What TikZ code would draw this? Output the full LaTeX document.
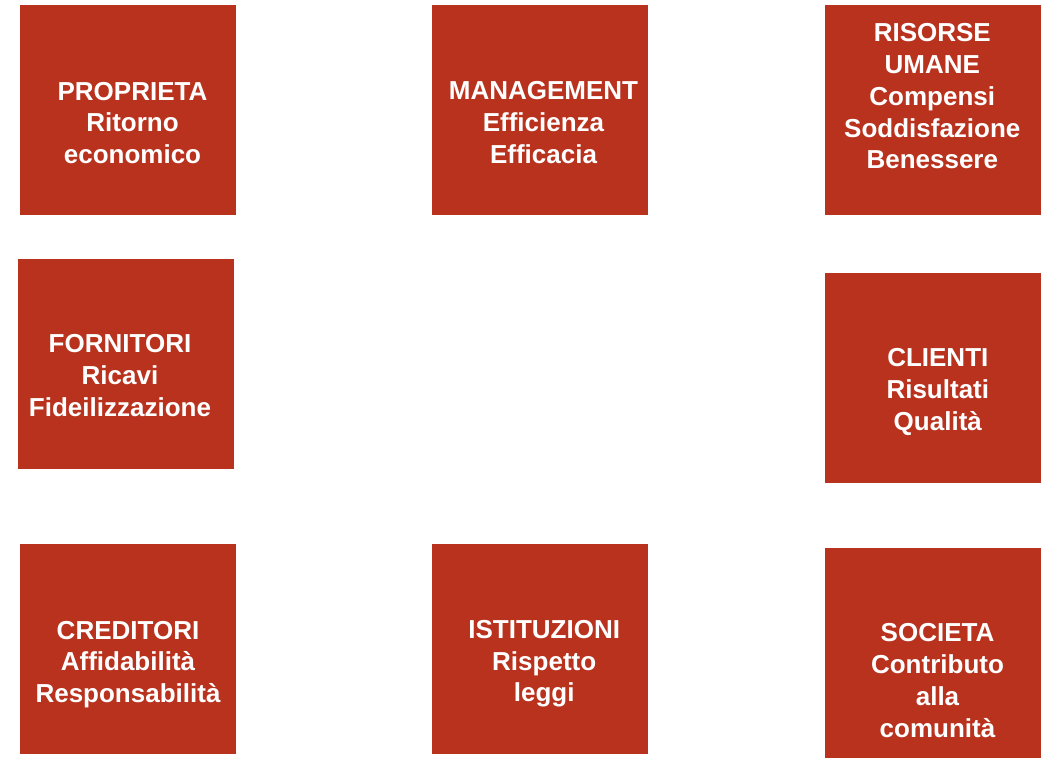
\documentclass[tikz,border=0pt]{standalone}
\usepackage{fontspec}
\setmainfont{Liberation Sans}
\definecolor{boxred}{HTML}{B8321E}
\newcommand{\boxtext}[1]{\begin{tabular}[t]{@{}c@{}}#1\end{tabular}}
\begin{document}
\begin{tikzpicture}[x=1pt,y=-1pt,
  redbox/.style={rectangle,fill=boxred,draw=none,inner sep=0pt,minimum width=216pt,minimum height=209.7pt},
  boxlabel/.style={anchor=base,inner sep=0pt,text=white,font=\fontsize{26}{31.8}\selectfont\bfseries}]
\useasboundingbox[fill=white] (0,0) rectangle (1055,772);
% boxes
\node[redbox] (prop) at (128,109.85) {};
\node[redbox] (mgmt) at (539.7,109.85) {};
\node[redbox] (ris)  at (932.85,109.85) {};
\node[redbox] (forn) at (126.3,363.65) {};
\node[redbox] (cli)  at (932.85,377.8) {};
\node[redbox] (cred) at (127.85,649.15) {};
\node[redbox] (ist)  at (539.7,649.15) {};
\node[redbox] (soc)  at (932.85,653) {};
% texts
\node[boxlabel] (prop-t) at (132.5,100) {\boxtext{PROPRIETA\\Ritorno\\economico}};
\node[boxlabel] (mgmt-t) at (543.5,99.5) {\boxtext{MANAGEMENT\\Efficienza\\Efficacia}};
\node[boxlabel] (ris-t)  at (932.3,41.7) {\boxtext{RISORSE\\UMANE\\Compensi\\Soddisfazione\\Benessere}};
\node[boxlabel] (forn-t) at (120,352.7) {\boxtext{FORNITORI\\Ricavi\\Fideilizzazione}};
\node[boxlabel] (cli-t)  at (937.8,366.7) {\boxtext{CLIENTI\\Risultati\\Qualità}};
\node[boxlabel] (cred-t) at (128,639) {\boxtext{CREDITORI\\Affidabilità\\Responsabilità}};
\node[boxlabel] (ist-t)  at (544.2,638.3) {\boxtext{ISTITUZIONI\\Rispetto\\leggi}};
\node[boxlabel] (soc-t)  at (937.5,641.7) {\boxtext{SOCIETA\\Contributo\\alla\\comunità}};
\end{tikzpicture}
\end{document}
